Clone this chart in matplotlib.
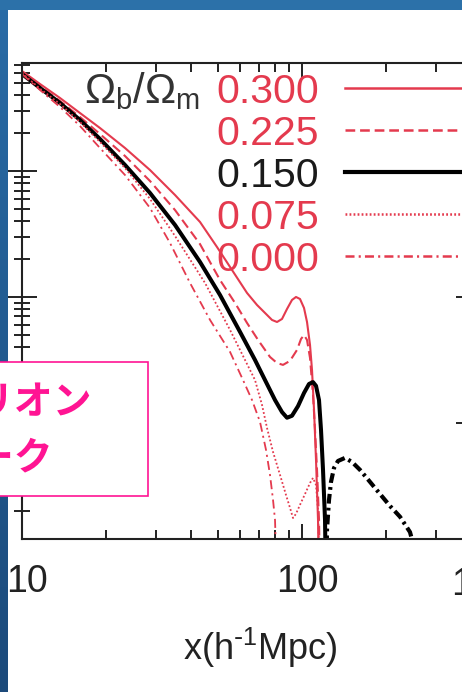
import numpy as np
import matplotlib
matplotlib.use("Agg")
import matplotlib.pyplot as plt
from matplotlib.patches import Rectangle
from matplotlib.ticker import LogLocator, NullFormatter, FixedLocator, FixedFormatter
from matplotlib.transforms import ScaledTranslation

plt.rcParams['font.family'] = ['Liberation Sans', 'DejaVu Sans']
plt.rcParams['lines.scale_dashes'] = False
plt.rcParams['mathtext.default'] = 'regular'

RED = '#e43a4e'
INK = '#222222'
PINK = '#ff1493'

# correlation function |xi(x)| for several baryon fractions
fb_labels = ['0.300', '0.225', '0.150', '0.075', '0.000']

x_300 = [10, 11.60, 13.67, 16.11, 18.99, 23.33, 28.65, 35.19, 43.22, 49.72, 56.23, 63.63,
         69.07, 74.99, 78.14, 81.42, 84.83, 88.39, 92.09, 95.18, 98.37, 101.66, 104.20,
         106.80, 108.57, 110.38, 112.20, 114.06, 115.0]
y_300 = [0.6217, 0.4903, 0.3797, 0.2886, 0.2194, 0.1522, 0.1018, 0.0645, 0.0394, 0.0249,
         0.01638, 0.01076, 0.00864, 0.00720, 0.00657, 0.00633, 0.00669, 0.00803, 0.00947,
         0.0100, 0.00964, 0.00818, 0.00633, 0.00416, 0.00263, 0.00127, 0.000509,
         0.000170, 0.00005]

x_225 = [10, 11.60, 13.67, 16.11, 18.99, 23.33, 28.65, 35.19, 43.22, 50.95, 57.65, 63.63,
         69.66, 76.86, 81.42, 85.53, 90.59, 95.97, 99.18, 101.66, 104.20, 106.80, 109.47,
         111.29, 113.13, 115.0, 115.96]
y_225 = [0.6105, 0.4726, 0.3594, 0.2683, 0.1966, 0.1315, 0.0833, 0.0490, 0.0263, 0.01364,
         0.00896, 0.00622, 0.00456, 0.00334, 0.00299, 0.00289, 0.00311, 0.00380, 0.00464,
         0.00499, 0.00456, 0.00328, 0.00167, 0.00088, 0.000424, 0.000170, 0.00005]

x_150 = [10, 11.60, 13.67, 16.11, 18.99, 23.33, 28.65, 35.19, 43.22, 50.95, 60.07, 67.95,
         73.77, 80.09, 84.83, 88.39, 92.09, 96.76, 101.66, 105.93, 109.47, 112.20, 115.0,
         116.91, 118.85, 120.82, 121.81]
y_150 = [0.5887, 0.4557, 0.3465, 0.2540, 0.1795, 0.1116, 0.0669, 0.0373, 0.01896, 0.01037,
         0.00528, 0.00316, 0.00219, 0.00152, 0.00122, 0.00110, 0.00114, 0.00136, 0.00173,
         0.00204, 0.00211, 0.00197, 0.00152, 0.00088, 0.000424, 0.000170, 0.00005]

x_075 = [10, 11.60, 13.67, 16.11, 18.99, 23.33, 28.65, 35.19, 45.04, 55.34, 67.95, 71.97,
         74.99, 78.79, 83.45, 87.67, 90.59, 92.85, 95.18, 98.37, 102.50, 106.80, 109.47,
         112.20, 114.06, 115.96]
y_075 = [0.5995, 0.4500, 0.3402, 0.2448, 0.1699, 0.1056, 0.0600, 0.0305, 0.01292, 0.00547,
         0.00219, 0.00139, 0.000913, 0.000589, 0.000387, 0.000268, 0.000212, 0.000176,
         0.000190, 0.000224, 0.000273, 0.000334, 0.000366, 0.000322, 0.000204, 0.00005]

x_000 = [10, 11.60, 13.67, 16.11, 18.99, 23.33, 28.65, 33.78, 39.81, 46.94, 55.34, 61.57,
         66.30, 70.79, 74.38, 76.86, 78.79, 80.09, 81.42]
y_000 = [0.5887, 0.4394, 0.3221, 0.2276, 0.1522, 0.0929, 0.0509, 0.0268, 0.01292, 0.00657,
         0.00366, 0.00219, 0.00152, 0.00102, 0.000611, 0.000387, 0.000245, 0.000170, 0.00005]

# negative branch of the 0.150 model, shown as |xi|
x_150_neg = [121.81, 122.81, 124.85, 126.91, 130.08, 134.43, 142.39, 150.86, 161.13, 175.0,
             189.90, 206.24, 223.87, 243.0, 255.3]
y_150_neg = [0.00005, 0.000142, 0.000245, 0.000340, 0.000439, 0.000499, 0.000528, 0.000490,
             0.000424, 0.000340, 0.000273, 0.000219, 0.000180, 0.000136, 0.00009]

xtick_vals = [10, 100]
xtick_text = ['10', '100']

W, H = 462, 692
fig = plt.figure(figsize=(W / 100, H / 100), dpi=100)
fig.patch.set_facecolor('white')

ax_l, ax_r, ax_t, ax_b = 22, 470.6, 63, 538.5
ax = fig.add_axes([ax_l / W, (H - ax_b) / H, (ax_r - ax_l) / W, (ax_b - ax_t) / H])
ax.set_zorder(1)

styles = [
    dict(color=RED, lw=1.5, ls='-'),
    dict(color=RED, lw=1.5, ls=(0, (7, 3.5))),
    dict(color='black', lw=2.9, ls='-'),
    dict(color=RED, lw=1.3, ls=(0, (1.3, 1.6))),
    dict(color=RED, lw=1.3, ls=(0, (6.5, 3, 1.5, 3))),
]
series = [(x_300, y_300), (x_225, y_225), (x_150, y_150), (x_075, y_075), (x_000, y_000)]
for (xs, ys), st in zip(series, styles):
    ax.plot(xs, ys, solid_joinstyle='round', dash_joinstyle='round', **st)
ax.plot(x_150_neg, y_150_neg, color='black', lw=3.0, ls=(0, (7, 3, 2, 3)),
        dash_joinstyle='round')

ax.set_xscale('log')
ax.set_yscale('log')
ax.set_xlim(10, 400)
ax.set_ylim(1.21e-4, 0.72)

ax.xaxis.set_major_locator(FixedLocator(xtick_vals))
ax.xaxis.set_major_formatter(FixedFormatter(xtick_text))
ax.xaxis.set_minor_locator(LogLocator(base=10, subs=np.arange(2, 10)))
ax.xaxis.set_minor_formatter(NullFormatter())
ax.yaxis.set_major_locator(LogLocator(base=10))
ax.yaxis.set_minor_locator(LogLocator(base=10, subs=np.arange(2, 10)))
ax.yaxis.set_minor_formatter(NullFormatter())

ax.tick_params(axis='x', which='both', direction='in', top=True, bottom=True,
               color=INK, width=1.4, labelcolor=INK)
ax.tick_params(axis='x', which='major', length=11, labelsize=27, pad=18)
ax.tick_params(axis='x', which='minor', length=6.5)
ax.tick_params(axis='y', which='both', direction='inout', left=True, right=True,
               labelleft=False, color=INK, width=1.4)
ax.tick_params(axis='y', which='major', length=22)
ax.tick_params(axis='y', which='minor', length=12)
for sp in ax.spines.values():
    sp.set_color(INK)
    sp.set_linewidth(1.5)

shift = ScaledTranslation(5 / 100, 0, fig.dpi_scale_trans)
for lbl in ax.get_xticklabels():
    lbl.set_transform(lbl.get_transform() + shift)

ax.set_xlabel(r'$\mathregular{x(h^{\text{-}1}Mpc)}$', fontsize=26, color=INK)
ax.xaxis.set_label_coords((260 - ax_l) / (ax_r - ax_l), (ax_b - 626) / (ax_b - ax_t))


def fx(px):
    return px / W


def fy(py):
    return (H - py) / H


# legend drawn inside the frame
leg_rows = [88, 130, 172, 214, 256]
fig.text(fx(84), fy(103), r'$\Omega_b/\Omega_m$', fontsize=30, color='#333333',
         ha='left', va='baseline', zorder=3)
for row, lab, st in zip(leg_rows, fb_labels, styles):
    is_black = st['color'] == 'black'
    tcol = '#1a1a1a' if is_black else RED
    fig.text(fx(319), fy(row + 15), lab, fontsize=29.5, color=tcol,
             ha='right', va='baseline', zorder=3)
    lw = 3.0 if is_black else 1.8
    fig.add_artist(plt.Line2D([fx(345), fx(470)], [fy(row), fy(row)],
                              color=st['color'], lw=lw, ls=st['ls'],
                              transform=fig.transFigure, zorder=3))

fig.text(fx(451), fy(595), '1', fontsize=27, color=INK, ha='left', va='baseline')

# slide background strips
top_col = '#2c71a9'
fig.add_artist(Rectangle((0, fy(9.5)), 1, 9.5 / H, transform=fig.transFigure,
                         facecolor=top_col, edgecolor='none', zorder=6))
strip = fig.add_axes([0, 0, 7.5 / W, fy(9.5)])
strip.set_zorder(6)
grad = np.linspace(0, 1, 256)[:, None]
c0 = np.array([0.16, 0.42, 0.65])
c1 = np.array([0.11, 0.29, 0.48])
img = (c0[None, None, :] * (1 - grad[..., None]) + c1[None, None, :] * grad[..., None])
strip.imshow(img, aspect='auto', extent=(0, 1, 0, 1))
strip.axis('off')

# annotation box
fig.add_artist(Rectangle((fx(-5), fy(496)), 153 / W, 134 / H, transform=fig.transFigure,
                         facecolor='white', edgecolor=PINK, lw=1.2, zorder=10))
cjk = ['Noto Sans CJK JP', 'DejaVu Sans']
fig.text(fx(-63), fy(402), 'バリオン', fontsize=28, fontweight='bold', color=PINK,
         family=cjk, ha='left', va='center', zorder=11)
fig.text(fx(-63), fy(458), 'ピーク', fontsize=28, fontweight='bold', color=PINK,
         family=cjk, ha='left', va='center', zorder=11)

fig.savefig('out.png', dpi=100)
